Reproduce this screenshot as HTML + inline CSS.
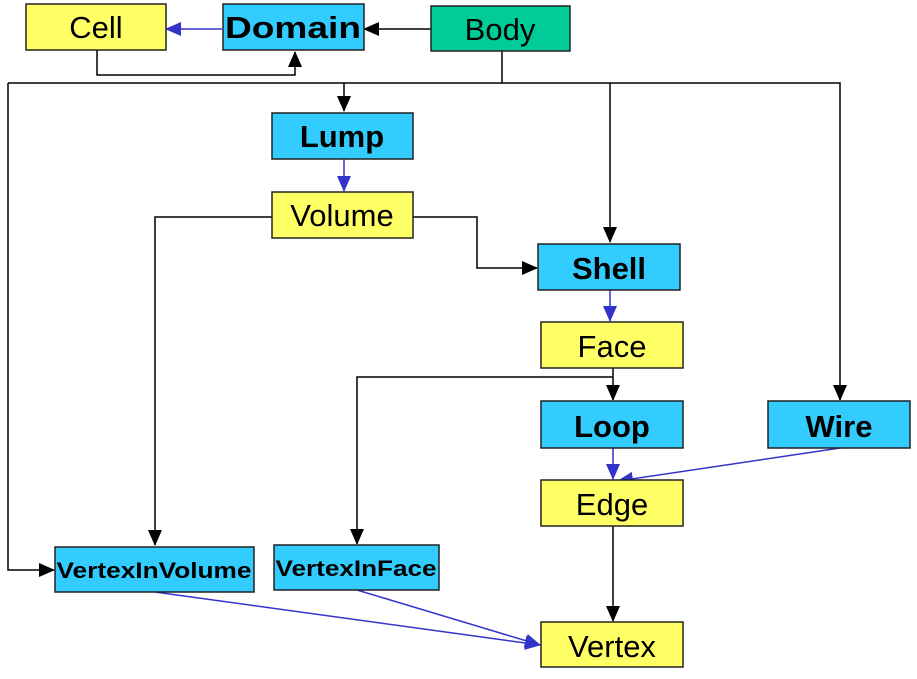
<!DOCTYPE html>
<html><head><meta charset="utf-8"><style>html,body{margin:0;padding:0;background:#fff}</style></head><body>
<svg width="917" height="674" viewBox="0 0 917 674" xmlns="http://www.w3.org/2000/svg" font-family="Liberation Sans, Arial, sans-serif">
<defs>
<marker id="ak" markerWidth="16" markerHeight="14" refX="15" refY="7" orient="auto" markerUnits="userSpaceOnUse"><path d="M0,0 L16,7 L0,14 z" fill="#000"/></marker>
<marker id="ab" markerWidth="16" markerHeight="14" refX="15" refY="7" orient="auto" markerUnits="userSpaceOnUse"><path d="M0,0 L16,7 L0,14 z" fill="#3333cc"/></marker>
</defs>
<g fill="none" stroke="#000" stroke-width="1.5">
<path d="M431,29 H364" marker-end="url(#ak)"/>
<path d="M97,50 V75 H295 V52" marker-end="url(#ak)"/>
<path d="M502,51 V83 H840 V400" marker-end="url(#ak)"/>
<path d="M8,83 H502"/>
<path d="M344,83 V111" marker-end="url(#ak)"/>
<path d="M610,83 V242" marker-end="url(#ak)"/>
<path d="M8,83 V570 H54" marker-end="url(#ak)"/>
<path d="M272,217 H155 V545" marker-end="url(#ak)"/>
<path d="M412,217 H477 V268 H537" marker-end="url(#ak)"/>
<path d="M613,368 V400" marker-end="url(#ak)"/>
<path d="M613,377 H357 V544" marker-end="url(#ak)"/>
<path d="M613,526 V621" marker-end="url(#ak)"/>
</g>
<g fill="none" stroke="#3333cc" stroke-width="1.5">
<path d="M222,29 H166" marker-end="url(#ab)"/>
<path d="M344,159 V191" marker-end="url(#ab)"/>
<path d="M610,290 V321" marker-end="url(#ab)"/>
<path d="M613,448 V479" marker-end="url(#ab)"/>
<path d="M840,448 L618,481" marker-end="url(#ab)"/>
<path d="M155,592 L540,645" marker-end="url(#ab)"/>
<path d="M357,590 L540,645" marker-end="url(#ab)"/>
</g>
<g stroke="#222" stroke-width="1.5">
<rect x="26" y="4" width="140" height="46" fill="#ffff66"/>
<rect x="223" y="4" width="141" height="46" fill="#33ccff"/>
<rect x="431" y="6" width="139" height="45" fill="#00cc99"/>
<rect x="272" y="113" width="141" height="46" fill="#33ccff"/>
<rect x="272" y="192" width="141" height="46" fill="#ffff66"/>
<rect x="538" y="244" width="142" height="46" fill="#33ccff"/>
<rect x="541" y="322" width="142" height="46" fill="#ffff66"/>
<rect x="541" y="401" width="142" height="47" fill="#33ccff"/>
<rect x="768" y="401" width="142" height="47" fill="#33ccff"/>
<rect x="541" y="480" width="142" height="46" fill="#ffff66"/>
<rect x="55" y="547" width="199" height="45" fill="#33ccff"/>
<rect x="274" y="545" width="165" height="45" fill="#33ccff"/>
<rect x="541" y="622" width="142" height="45" fill="#ffff66"/>
</g>
<g font-size="31" text-anchor="middle" fill="#000">
<text x="96" y="38">Cell</text>
<text x="293" y="38" font-weight="bold" textLength="136" lengthAdjust="spacingAndGlyphs">Domain</text>
<text x="500" y="40">Body</text>
<text x="342" y="147" font-weight="bold">Lump</text>
<text x="342" y="226">Volume</text>
<text x="609" y="279" font-weight="bold">Shell</text>
<text x="612" y="357">Face</text>
<text x="612" y="437" font-weight="bold">Loop</text>
<text x="839" y="437" font-weight="bold">Wire</text>
<text x="612" y="515">Edge</text>
<text x="612" y="657">Vertex</text>
</g>
<g font-size="22" font-weight="bold" text-anchor="middle" fill="#000">
<text x="154" y="578" textLength="195" lengthAdjust="spacingAndGlyphs">VertexInVolume</text>
<text x="356" y="576" textLength="161" lengthAdjust="spacingAndGlyphs">VertexInFace</text>
</g>
</svg>
</body></html>
